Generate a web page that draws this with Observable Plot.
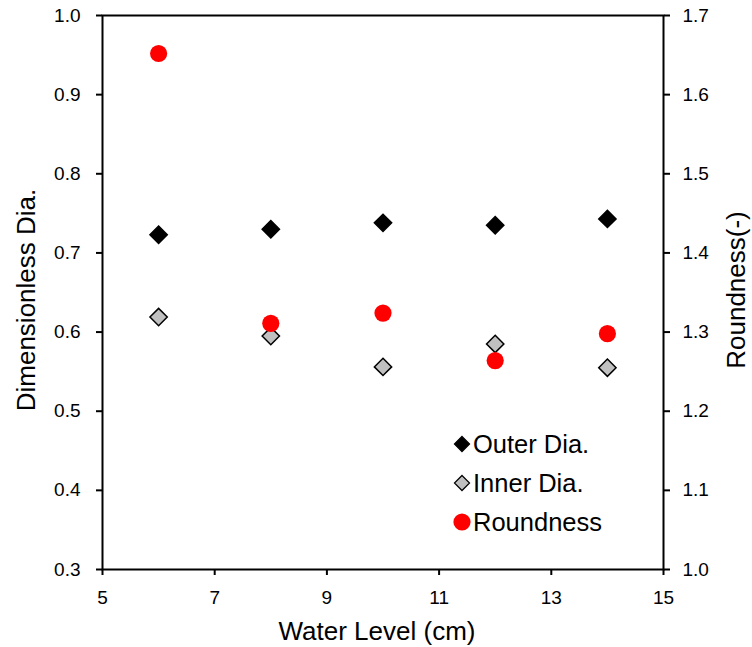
<!DOCTYPE html>
<html><head><meta charset="utf-8">
<script src="https://cdn.jsdelivr.net/npm/d3@7"></script>
<script src="https://cdn.jsdelivr.net/npm/@observablehq/plot@0.6"></script>
<style>
body{margin:0;background:#fff}
#chart{position:relative;width:752px;height:647px}
</style>
</head><body><div id="chart"></div>
<script>
const waterLevel = [6, 8, 10, 12, 14];
const outerDia = [0.723, 0.730, 0.738, 0.735, 0.743];
const innerDia = [0.619, 0.595, 0.556, 0.585, 0.555];
const roundness = [1.652, 1.311, 1.324, 1.264, 1.298];
const xTicks = [5, 7, 9, 11, 13, 15];
const leftTicks = [0.3, 0.4, 0.5, 0.6, 0.7, 0.8, 0.9, 1.0];
const rightTicks = [1.0, 1.1, 1.2, 1.3, 1.4, 1.5, 1.6, 1.7];
const rightOffset = 0.7; // right axis value = left axis value + 0.7
const seriesNames = ["Outer Dia.", "Inner Dia.", "Roundness"];

const outerData = waterLevel.map((x, i) => ({x, y: outerDia[i]}));
const innerData = waterLevel.map((x, i) => ({x, y: innerDia[i]}));
const roundData = waterLevel.map((x, i) => ({x, y: roundness[i]}));

const font = "'Liberation Sans', Arial, sans-serif";

const plot = Plot.plot({
  width: 752, height: 647,
  marginLeft: 102, marginRight: 89, marginTop: 15, marginBottom: 78,
  style: {fontFamily: font, fontSize: "19px", color: "#000", background: "#fff"},
  x: {domain: [5, 15]},
  y: {domain: [0.3, 1.0]},
  marks: [
    Plot.frame({stroke: "#000", strokeWidth: 2}),
    Plot.axisX({ticks: xTicks, tickSize: 6, tickPadding: 15, strokeWidth: 2, tickFormat: d => String(d), label: null, fontSize: 19}),
    Plot.axisY({anchor: "left", ticks: leftTicks, tickSize: 6, tickPadding: 16, strokeWidth: 2, tickFormat: d => d.toFixed(1), label: null, fontSize: 19}),
    Plot.axisY({anchor: "right", ticks: leftTicks, tickSize: 6, tickPadding: 13, strokeWidth: 2,
      tickFormat: (d, i) => rightTicks[i].toFixed(1), label: null, fontSize: 19}),
    Plot.dot(outerData, {x: "x", y: "y", symbol: "diamond2", r: 7.8, fill: "#000", stroke: "#000", strokeWidth: 1.5}),
    Plot.dot(innerData, {x: "x", y: "y", symbol: "diamond2", r: 7.8, fill: "#c0c0c0", stroke: "#000", strokeWidth: 1.5}),
    Plot.dot(roundData, {x: "x", y: d => d.y - rightOffset, r: 8.6, fill: "#ff0000", stroke: "none"})
  ]
});
document.getElementById("chart").appendChild(plot);

const svg = d3.select(plot);
// axis titles
svg.append("text").attr("x", 377).attr("y", 640).attr("text-anchor", "middle")
  .attr("font-family", font).attr("font-size", 26).attr("fill", "#000").text("Water Level (cm)");
svg.append("text").attr("transform", "translate(35,300) rotate(-90)").attr("text-anchor", "middle")
  .attr("font-family", font).attr("font-size", 26).attr("fill", "#000").text("Dimensionless Dia.");
svg.append("text").attr("transform", "translate(745,290) rotate(-90)").attr("text-anchor", "middle")
  .attr("font-family", font).attr("font-size", 26).attr("fill", "#000").text("Roundness(-)");

// legend
const leg = svg.append("g").attr("font-family", font).attr("font-size", 25.5).attr("fill", "#000")
  .attr("text-anchor", "start");
const legItems = [
  {sym: d3.symbolDiamond2, r: 6.8, fill: "#000", stroke: "#000", sw: 1.2},
  {sym: d3.symbolDiamond2, r: 6.8, fill: "#c0c0c0", stroke: "#000", sw: 1.2},
  {sym: d3.symbolCircle, r: 8.6, fill: "#ff0000", stroke: "none", sw: 0}
];
const legY = [444, 483, 522];
legItems.forEach((it, i) => {
  leg.append("path").attr("transform", `translate(462,${legY[i]})`)
    .attr("d", d3.symbol(it.sym, Math.PI * it.r * it.r)())
    .attr("fill", it.fill).attr("stroke", it.stroke).attr("stroke-width", it.sw);
  leg.append("text").attr("x", 473).attr("y", legY[i] + 8.5).attr("text-anchor", "start").text(seriesNames[i]);
});
</script>
</body></html>
